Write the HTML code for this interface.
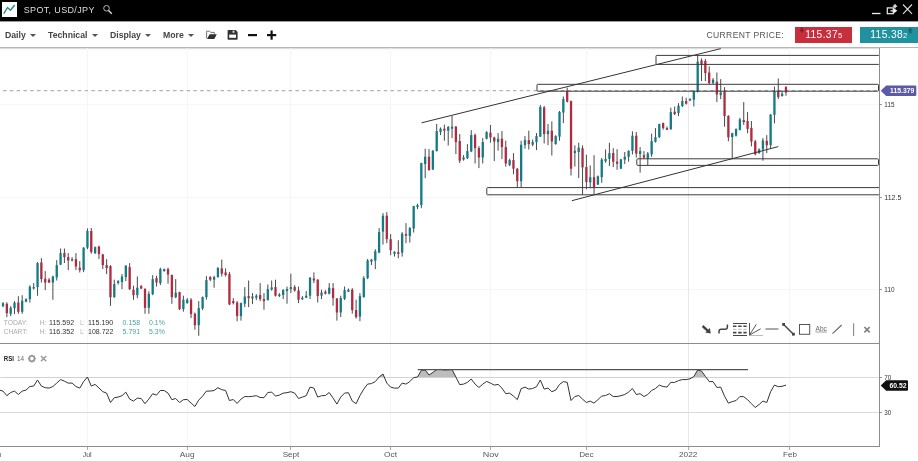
<!DOCTYPE html>
<html><head><meta charset="utf-8"><title>SPOT, USD/JPY</title>
<style>
html,body{margin:0;padding:0;background:#fff;}
body{width:918px;height:461px;overflow:hidden;position:relative;font-family:"Liberation Sans","DejaVu Sans",sans-serif;}
#top{will-change:transform;position:absolute;left:0;top:0;width:918px;height:21px;background:#000;}
#logo{position:absolute;left:2px;top:2px;width:15px;height:15px;background:#fff;}
#title{position:absolute;left:23.7px;top:4px;font-size:9px;line-height:12px;color:#ddd;letter-spacing:0.35px;white-space:nowrap;}
#tb{will-change:transform;position:absolute;left:0;top:21px;width:918px;height:26px;background:linear-gradient(#9a9a9a,#9a9a9a) 0 0/100% 1px no-repeat #fff;border-bottom:1px solid #b5b5b5;box-shadow:0 1px 1px #ddd;}
.m{position:absolute;top:8px;font-size:8.7px;line-height:12px;font-weight:bold;color:#444;white-space:nowrap;}
.ar{position:absolute;top:13px;width:0;height:0;border-left:3px solid transparent;border-right:3px solid transparent;border-top:3.5px solid #555;}
#cp{position:absolute;left:706.5px;top:8px;font-size:8.6px;line-height:12px;color:#555;letter-spacing:0.33px;white-space:nowrap;}
.pb{position:absolute;top:6px;height:15.6px;color:#fff;font-size:10.2px;line-height:15.4px;letter-spacing:0.4px;white-space:nowrap;}
.pb small{font-size:7.5px;}
svg{position:absolute;left:0;top:0;}
text{font-family:"Liberation Sans","DejaVu Sans",sans-serif;}
</style></head><body>
<div id="top">
 <div id="logo"><svg width="15" height="15" viewBox="0 0 15 15"><path d="M1.8 11.7 L5.5 5.5 L8.5 8.2 L12.7 3" fill="none" stroke="#2a8a80" stroke-width="1.4" stroke-linejoin="miter"/></svg></div>
 <div id="title">SPOT, USD/JPY</div>
 <svg width="918" height="21" viewBox="0 0 918 21">
  <circle cx="106.5" cy="8.3" r="2.8" fill="none" stroke="#bbb" stroke-width="1"/><path d="M108.5 10.6 L111.8 13.8" stroke="#ddd" stroke-width="1.4"/>
  <path d="M872 13.5 H880.5" stroke="#eee" stroke-width="1.3"/>
  <rect x="887.3" y="7.9" width="6" height="5.8" fill="none" stroke="#eee" stroke-width="1.2"/>
  <path d="M890.5 10.8 H896 M894.3 9.3 L896.3 10.8 L894.3 12.3 Z" stroke="#eee" stroke-width="1.2" fill="#eee"/>
  <path d="M895 4 L895.6 5.6 L897.2 6.2 L895.6 6.8 L895 8.4 L894.4 6.8 L892.8 6.2 L894.4 5.6 Z" fill="#eee" stroke="#eee" stroke-width="0.6"/>
  <path d="M903 4.5 L912 13.8 M912 4.5 L903 13.8" stroke="#ddd" stroke-width="1.1"/>
 </svg>
</div>
<div id="tb">
 <span class="m" style="left:5px">Daily</span><i class="ar" style="left:30px"></i>
 <span class="m" style="left:48px">Technical</span><i class="ar" style="left:92px"></i>
 <span class="m" style="left:110px">Display</span><i class="ar" style="left:145px"></i>
 <span class="m" style="left:163px">More</span><i class="ar" style="left:188px"></i>
 <svg width="300" height="26" viewBox="0 21 300 26">
  <path d="M206.6 38.4 V31.2 H209.6 L210.6 32.4 H214.4 V34" fill="none" stroke="#666" stroke-width="0.9"/>
  <path d="M207 39 L209.6 34.2 H216.8 L214.3 39 Z" fill="#2e2e2e"/>
  <path d="M228.3 30 H235.6 L237.6 32 V39.1 Q237.6 39.8 236.9 39.8 H228.3 Q227.6 39.8 227.6 39.1 V30.7 Q227.6 30 228.3 30 Z" fill="#333"/>
  <rect x="232.6" y="30.6" width="1.8" height="2.2" fill="#ddd"/>
  <rect x="229.2" y="34.6" width="6.8" height="3.2" fill="#fff"/>
  <rect x="248" y="34" width="9" height="2.2" fill="#111"/>
  <rect x="267" y="34" width="9.2" height="2.2" fill="#111"/><rect x="270.5" y="30.5" width="2.2" height="9.2" fill="#111"/>
 </svg>
 <div id="cp">CURRENT PRICE:</div>
 <div class="pb" style="left:795.4px;width:56.4px;background:#c82f3d;"><span style="position:absolute;left:9.8px">115.37<small>5</small></span></div>
 <div class="pb" style="left:860px;width:58px;background:#20919f;"><span style="position:absolute;left:10.3px">115.38<small>2</small></span></div>
 <svg width="918" height="26" viewBox="0 21 918 26">
  <path d="M800.6 27.6 H803 V30 H804.4 L801.8 33 L799.2 30 H800.6 Z" fill="#8a1f2a"/>
  <path d="M909.1 33.2 H911.5 V30.6 H912.9 L910.3 27.6 L907.7 30.6 H909.1 Z" fill="#17656e"/>
 </svg>
</div>
<svg width="918" height="461" viewBox="0 0 918 461" shape-rendering="auto">
 <!-- grid -->
 <g stroke="#f6f6f6" stroke-width="1" shape-rendering="crispEdges">
  <path d="M0 104.5 H879 M0 197.5 H879 M0 289.5 H879"/>
  <path d="M87.5 48 V446 M187.5 48 V446 M290.5 48 V446 M390.5 48 V446 M490.5 48 V446 M586.5 48 V446 M789.5 48 V446"/><path d="M688.5 48 V446" stroke="#e8e8e8"/>
  <path d="M0 377.5 H879 M0 412.5 H879" stroke="#dadada"/>
 </g>
 <!-- dashed price line -->
 <path d="M3 90.6 H879" stroke="#b2b2b2" stroke-width="1.2" stroke-dasharray="3.5 3.3"/>
 <!-- candles -->
 <g>
 <rect x="2.50" y="302.2" width="1" height="5.0" fill="#4a4a4a"/>
<rect x="1.85" y="303.2" width="2.3" height="3.0" fill="#127c86"/>
<rect x="6.34" y="302.2" width="1" height="15.0" fill="#4a4a4a"/>
<rect x="5.69" y="303.8" width="2.3" height="9.4" fill="#b02a40"/>
<rect x="10.18" y="306.2" width="1" height="10.0" fill="#4a4a4a"/>
<rect x="9.53" y="307.8" width="2.3" height="6.0" fill="#127c86"/>
<rect x="14.01" y="301.2" width="1" height="13.0" fill="#4a4a4a"/>
<rect x="13.36" y="302.6" width="2.3" height="5.6" fill="#127c86"/>
<rect x="17.85" y="296.2" width="1" height="17.6" fill="#4a4a4a"/>
<rect x="17.20" y="302.6" width="2.3" height="9.2" fill="#b02a40"/>
<rect x="21.69" y="295.2" width="1" height="18.6" fill="#4a4a4a"/>
<rect x="21.04" y="300.8" width="2.3" height="11.0" fill="#127c86"/>
<rect x="25.53" y="298.2" width="1" height="4.0" fill="#4a4a4a"/>
<rect x="24.88" y="299.2" width="2.3" height="2.6" fill="#127c86"/>
<rect x="29.37" y="285.3" width="1" height="17.3" fill="#4a4a4a"/>
<rect x="28.72" y="286.7" width="2.3" height="12.5" fill="#127c86"/>
<rect x="33.20" y="283.1" width="1" height="6.4" fill="#4a4a4a"/>
<rect x="32.55" y="287.1" width="2.3" height="1.4" fill="#127c86"/>
<rect x="37.04" y="262.1" width="1" height="33.7" fill="#4a4a4a"/>
<rect x="36.39" y="263.1" width="2.3" height="24.0" fill="#127c86"/>
<rect x="40.88" y="258.1" width="1" height="24.4" fill="#4a4a4a"/>
<rect x="40.23" y="262.5" width="2.3" height="16.6" fill="#b02a40"/>
<rect x="44.72" y="271.1" width="1" height="19.0" fill="#4a4a4a"/>
<rect x="44.07" y="278.7" width="2.3" height="3.8" fill="#b02a40"/>
<rect x="48.56" y="278.1" width="1" height="5.0" fill="#4a4a4a"/>
<rect x="47.91" y="279.7" width="2.3" height="2.8" fill="#b02a40"/>
<rect x="52.39" y="275.7" width="1" height="24.1" fill="#4a4a4a"/>
<rect x="51.74" y="276.5" width="2.3" height="6.0" fill="#127c86"/>
<rect x="56.23" y="260.1" width="1" height="20.4" fill="#4a4a4a"/>
<rect x="55.58" y="265.1" width="2.3" height="12.4" fill="#127c86"/>
<rect x="60.07" y="248.5" width="1" height="16.6" fill="#4a4a4a"/>
<rect x="59.42" y="253.1" width="2.3" height="11.6" fill="#127c86"/>
<rect x="63.91" y="248.5" width="1" height="14.6" fill="#4a4a4a"/>
<rect x="63.26" y="253.1" width="2.3" height="4.0" fill="#b02a40"/>
<rect x="67.75" y="253.1" width="1" height="17.0" fill="#4a4a4a"/>
<rect x="67.10" y="257.1" width="2.3" height="3.4" fill="#b02a40"/>
<rect x="71.58" y="257.1" width="1" height="4.4" fill="#4a4a4a"/>
<rect x="70.93" y="259.1" width="2.3" height="1.4" fill="#127c86"/>
<rect x="75.42" y="253.1" width="1" height="17.0" fill="#4a4a4a"/>
<rect x="74.77" y="259.1" width="2.3" height="7.4" fill="#b02a40"/>
<rect x="79.26" y="261.1" width="1" height="11.4" fill="#4a4a4a"/>
<rect x="78.61" y="267.7" width="2.3" height="2.4" fill="#b02a40"/>
<rect x="83.10" y="247.1" width="1" height="25.0" fill="#4a4a4a"/>
<rect x="82.45" y="247.7" width="2.3" height="22.4" fill="#127c86"/>
<rect x="86.94" y="228.4" width="1" height="20.7" fill="#4a4a4a"/>
<rect x="86.29" y="231.0" width="2.3" height="16.7" fill="#127c86"/>
<rect x="90.77" y="228.0" width="1" height="25.7" fill="#4a4a4a"/>
<rect x="90.12" y="231.0" width="2.3" height="21.1" fill="#b02a40"/>
<rect x="94.61" y="246.5" width="1" height="7.6" fill="#4a4a4a"/>
<rect x="93.96" y="247.1" width="2.3" height="6.0" fill="#127c86"/>
<rect x="98.45" y="245.7" width="1" height="13.4" fill="#4a4a4a"/>
<rect x="97.80" y="246.5" width="2.3" height="7.6" fill="#b02a40"/>
<rect x="102.29" y="253.7" width="1" height="15.4" fill="#4a4a4a"/>
<rect x="101.64" y="254.5" width="2.3" height="10.6" fill="#b02a40"/>
<rect x="106.13" y="259.1" width="1" height="15.0" fill="#4a4a4a"/>
<rect x="105.48" y="265.1" width="2.3" height="3.0" fill="#b02a40"/>
<rect x="109.96" y="265.1" width="1" height="40.7" fill="#4a4a4a"/>
<rect x="109.31" y="266.1" width="2.3" height="31.1" fill="#b02a40"/>
<rect x="113.80" y="279.7" width="1" height="18.1" fill="#4a4a4a"/>
<rect x="113.15" y="284.1" width="2.3" height="13.1" fill="#127c86"/>
<rect x="117.64" y="280.1" width="1" height="4.4" fill="#4a4a4a"/>
<rect x="116.99" y="281.1" width="2.3" height="2.0" fill="#127c86"/>
<rect x="121.48" y="274.1" width="1" height="15.0" fill="#4a4a4a"/>
<rect x="120.83" y="276.5" width="2.3" height="5.6" fill="#127c86"/>
<rect x="125.32" y="265.1" width="1" height="16.0" fill="#4a4a4a"/>
<rect x="124.67" y="265.7" width="2.3" height="11.4" fill="#127c86"/>
<rect x="129.15" y="263.1" width="1" height="27.0" fill="#4a4a4a"/>
<rect x="128.50" y="267.1" width="2.3" height="22.0" fill="#b02a40"/>
<rect x="132.99" y="285.7" width="1" height="14.1" fill="#4a4a4a"/>
<rect x="132.34" y="289.7" width="2.3" height="5.5" fill="#b02a40"/>
<rect x="136.83" y="276.5" width="1" height="21.7" fill="#4a4a4a"/>
<rect x="136.18" y="287.7" width="2.3" height="7.5" fill="#127c86"/>
<rect x="140.67" y="285.1" width="1" height="4.0" fill="#4a4a4a"/>
<rect x="140.02" y="286.1" width="2.3" height="2.4" fill="#b02a40"/>
<rect x="144.51" y="288.1" width="1" height="25.7" fill="#4a4a4a"/>
<rect x="143.86" y="289.1" width="2.3" height="18.7" fill="#b02a40"/>
<rect x="148.34" y="291.2" width="1" height="22.6" fill="#4a4a4a"/>
<rect x="147.69" y="293.8" width="2.3" height="14.0" fill="#127c86"/>
<rect x="152.18" y="275.1" width="1" height="20.1" fill="#4a4a4a"/>
<rect x="151.53" y="279.1" width="2.3" height="15.1" fill="#127c86"/>
<rect x="156.02" y="275.7" width="1" height="10.8" fill="#4a4a4a"/>
<rect x="155.37" y="278.1" width="2.3" height="4.4" fill="#b02a40"/>
<rect x="159.86" y="267.7" width="1" height="17.4" fill="#4a4a4a"/>
<rect x="159.21" y="269.1" width="2.3" height="14.0" fill="#127c86"/>
<rect x="163.70" y="268.5" width="1" height="3.2" fill="#4a4a4a"/>
<rect x="163.05" y="269.1" width="2.3" height="2.0" fill="#127c86"/>
<rect x="167.53" y="267.7" width="1" height="16.0" fill="#4a4a4a"/>
<rect x="166.88" y="269.1" width="2.3" height="5.4" fill="#b02a40"/>
<rect x="171.37" y="274.5" width="1" height="29.3" fill="#4a4a4a"/>
<rect x="170.72" y="275.1" width="2.3" height="22.1" fill="#b02a40"/>
<rect x="175.21" y="279.1" width="1" height="19.1" fill="#4a4a4a"/>
<rect x="174.56" y="292.6" width="2.3" height="4.6" fill="#127c86"/>
<rect x="179.05" y="291.7" width="1" height="18.4" fill="#4a4a4a"/>
<rect x="178.40" y="292.1" width="2.3" height="17.0" fill="#b02a40"/>
<rect x="182.89" y="295.7" width="1" height="16.0" fill="#4a4a4a"/>
<rect x="182.24" y="299.7" width="2.3" height="9.4" fill="#127c86"/>
<rect x="186.72" y="298.1" width="1" height="5.6" fill="#4a4a4a"/>
<rect x="186.07" y="299.7" width="2.3" height="3.4" fill="#127c86"/>
<rect x="190.56" y="298.1" width="1" height="20.0" fill="#4a4a4a"/>
<rect x="189.91" y="299.7" width="2.3" height="14.4" fill="#b02a40"/>
<rect x="194.40" y="312.5" width="1" height="17.3" fill="#4a4a4a"/>
<rect x="193.75" y="313.7" width="2.3" height="11.5" fill="#b02a40"/>
<rect x="198.24" y="301.1" width="1" height="34.7" fill="#4a4a4a"/>
<rect x="197.59" y="308.1" width="2.3" height="17.1" fill="#127c86"/>
<rect x="202.08" y="296.5" width="1" height="13.6" fill="#4a4a4a"/>
<rect x="201.43" y="297.1" width="2.3" height="11.4" fill="#127c86"/>
<rect x="205.91" y="276.1" width="1" height="23.6" fill="#4a4a4a"/>
<rect x="205.26" y="280.1" width="2.3" height="17.0" fill="#127c86"/>
<rect x="209.75" y="276.1" width="1" height="5.0" fill="#4a4a4a"/>
<rect x="209.10" y="277.1" width="2.3" height="2.6" fill="#b02a40"/>
<rect x="213.59" y="275.7" width="1" height="12.0" fill="#4a4a4a"/>
<rect x="212.94" y="277.1" width="2.3" height="2.6" fill="#127c86"/>
<rect x="217.43" y="267.0" width="1" height="10.7" fill="#4a4a4a"/>
<rect x="216.78" y="268.0" width="2.3" height="9.1" fill="#127c86"/>
<rect x="221.27" y="259.6" width="1" height="16.9" fill="#4a4a4a"/>
<rect x="220.62" y="268.4" width="2.3" height="5.3" fill="#b02a40"/>
<rect x="225.10" y="268.4" width="1" height="8.1" fill="#4a4a4a"/>
<rect x="224.45" y="272.4" width="2.3" height="2.7" fill="#b02a40"/>
<rect x="228.94" y="272.0" width="1" height="33.1" fill="#4a4a4a"/>
<rect x="228.29" y="274.1" width="2.3" height="30.4" fill="#b02a40"/>
<rect x="232.78" y="298.1" width="1" height="6.4" fill="#4a4a4a"/>
<rect x="232.13" y="301.1" width="2.3" height="2.0" fill="#b02a40"/>
<rect x="236.62" y="301.1" width="1" height="20.1" fill="#4a4a4a"/>
<rect x="235.97" y="302.5" width="2.3" height="13.6" fill="#b02a40"/>
<rect x="240.46" y="302.5" width="1" height="18.1" fill="#4a4a4a"/>
<rect x="239.81" y="303.1" width="2.3" height="13.0" fill="#127c86"/>
<rect x="244.29" y="287.1" width="1" height="20.0" fill="#4a4a4a"/>
<rect x="243.64" y="296.5" width="2.3" height="7.2" fill="#127c86"/>
<rect x="248.13" y="280.5" width="1" height="26.6" fill="#4a4a4a"/>
<rect x="247.48" y="296.1" width="2.3" height="2.0" fill="#b02a40"/>
<rect x="251.97" y="293.1" width="1" height="11.0" fill="#4a4a4a"/>
<rect x="251.32" y="296.5" width="2.3" height="2.0" fill="#127c86"/>
<rect x="255.81" y="294.1" width="1" height="6.0" fill="#4a4a4a"/>
<rect x="255.16" y="295.7" width="2.3" height="2.0" fill="#127c86"/>
<rect x="259.65" y="283.1" width="1" height="18.0" fill="#4a4a4a"/>
<rect x="259.00" y="295.1" width="2.3" height="4.0" fill="#b02a40"/>
<rect x="263.48" y="293.1" width="1" height="16.6" fill="#4a4a4a"/>
<rect x="262.83" y="299.1" width="2.3" height="2.0" fill="#b02a40"/>
<rect x="267.32" y="284.5" width="1" height="16.0" fill="#4a4a4a"/>
<rect x="266.67" y="289.1" width="2.3" height="11.0" fill="#127c86"/>
<rect x="271.16" y="280.5" width="1" height="10.2" fill="#4a4a4a"/>
<rect x="270.51" y="287.5" width="2.3" height="2.0" fill="#127c86"/>
<rect x="275.00" y="279.7" width="1" height="16.8" fill="#4a4a4a"/>
<rect x="274.35" y="287.1" width="2.3" height="8.6" fill="#b02a40"/>
<rect x="278.84" y="293.1" width="1" height="4.0" fill="#4a4a4a"/>
<rect x="278.19" y="294.5" width="2.3" height="1.6" fill="#127c86"/>
<rect x="282.67" y="289.1" width="1" height="10.0" fill="#4a4a4a"/>
<rect x="282.02" y="290.1" width="2.3" height="5.0" fill="#127c86"/>
<rect x="286.51" y="286.5" width="1" height="17.2" fill="#4a4a4a"/>
<rect x="285.86" y="289.1" width="2.3" height="2.0" fill="#127c86"/>
<rect x="290.35" y="273.7" width="1" height="19.4" fill="#4a4a4a"/>
<rect x="289.70" y="287.1" width="2.3" height="2.0" fill="#127c86"/>
<rect x="294.19" y="285.1" width="1" height="6.6" fill="#4a4a4a"/>
<rect x="293.54" y="287.1" width="2.3" height="3.4" fill="#b02a40"/>
<rect x="298.03" y="286.5" width="1" height="16.6" fill="#4a4a4a"/>
<rect x="297.38" y="290.5" width="2.3" height="9.2" fill="#b02a40"/>
<rect x="301.86" y="296.1" width="1" height="4.0" fill="#4a4a4a"/>
<rect x="301.21" y="297.7" width="2.3" height="1.4" fill="#127c86"/>
<rect x="305.70" y="291.1" width="1" height="7.0" fill="#4a4a4a"/>
<rect x="305.05" y="295.7" width="2.3" height="2.0" fill="#127c86"/>
<rect x="309.54" y="277.1" width="1" height="22.0" fill="#4a4a4a"/>
<rect x="308.89" y="277.7" width="2.3" height="18.0" fill="#127c86"/>
<rect x="313.38" y="272.4" width="1" height="10.7" fill="#4a4a4a"/>
<rect x="312.73" y="278.5" width="2.3" height="2.0" fill="#b02a40"/>
<rect x="317.22" y="279.1" width="1" height="23.4" fill="#4a4a4a"/>
<rect x="316.57" y="279.7" width="2.3" height="16.4" fill="#b02a40"/>
<rect x="321.05" y="289.7" width="1" height="9.4" fill="#4a4a4a"/>
<rect x="320.40" y="292.5" width="2.3" height="3.2" fill="#127c86"/>
<rect x="324.89" y="290.1" width="1" height="4.4" fill="#4a4a4a"/>
<rect x="324.24" y="291.7" width="2.3" height="2.0" fill="#b02a40"/>
<rect x="328.73" y="283.1" width="1" height="11.4" fill="#4a4a4a"/>
<rect x="328.08" y="287.7" width="2.3" height="6.0" fill="#127c86"/>
<rect x="332.57" y="283.1" width="1" height="22.6" fill="#4a4a4a"/>
<rect x="331.92" y="288.1" width="2.3" height="10.0" fill="#b02a40"/>
<rect x="336.41" y="298.1" width="1" height="22.5" fill="#4a4a4a"/>
<rect x="335.76" y="298.5" width="2.3" height="14.0" fill="#b02a40"/>
<rect x="340.24" y="295.7" width="1" height="21.4" fill="#4a4a4a"/>
<rect x="339.59" y="298.1" width="2.3" height="14.4" fill="#127c86"/>
<rect x="344.08" y="286.5" width="1" height="13.6" fill="#4a4a4a"/>
<rect x="343.43" y="290.1" width="2.3" height="8.6" fill="#127c86"/>
<rect x="347.92" y="288.5" width="1" height="3.6" fill="#4a4a4a"/>
<rect x="347.27" y="289.7" width="2.3" height="2.0" fill="#127c86"/>
<rect x="351.76" y="288.1" width="1" height="25.6" fill="#4a4a4a"/>
<rect x="351.11" y="289.7" width="2.3" height="20.4" fill="#b02a40"/>
<rect x="355.60" y="299.7" width="1" height="18.9" fill="#4a4a4a"/>
<rect x="354.95" y="310.1" width="2.3" height="7.0" fill="#b02a40"/>
<rect x="359.43" y="293.1" width="1" height="28.1" fill="#4a4a4a"/>
<rect x="358.78" y="296.1" width="2.3" height="20.5" fill="#127c86"/>
<rect x="363.27" y="276.1" width="1" height="21.6" fill="#4a4a4a"/>
<rect x="362.62" y="278.1" width="2.3" height="19.0" fill="#127c86"/>
<rect x="367.11" y="259.0" width="1" height="20.1" fill="#4a4a4a"/>
<rect x="366.46" y="260.4" width="2.3" height="17.7" fill="#127c86"/>
<rect x="370.95" y="259.0" width="1" height="6.1" fill="#4a4a4a"/>
<rect x="370.30" y="259.6" width="2.3" height="2.1" fill="#127c86"/>
<rect x="374.79" y="249.2" width="1" height="20.0" fill="#4a4a4a"/>
<rect x="374.14" y="251.2" width="2.3" height="9.4" fill="#127c86"/>
<rect x="378.62" y="228.1" width="1" height="25.1" fill="#4a4a4a"/>
<rect x="377.97" y="232.1" width="2.3" height="20.5" fill="#127c86"/>
<rect x="382.46" y="213.1" width="1" height="31.5" fill="#4a4a4a"/>
<rect x="381.81" y="215.7" width="2.3" height="16.0" fill="#127c86"/>
<rect x="386.30" y="212.1" width="1" height="31.1" fill="#4a4a4a"/>
<rect x="385.65" y="215.7" width="2.3" height="23.5" fill="#b02a40"/>
<rect x="390.14" y="234.1" width="1" height="21.1" fill="#4a4a4a"/>
<rect x="389.49" y="239.2" width="2.3" height="11.0" fill="#b02a40"/>
<rect x="393.98" y="251.2" width="1" height="5.4" fill="#4a4a4a"/>
<rect x="393.33" y="251.8" width="2.3" height="2.0" fill="#127c86"/>
<rect x="397.81" y="240.2" width="1" height="18.0" fill="#4a4a4a"/>
<rect x="397.16" y="252.2" width="2.3" height="1.6" fill="#b02a40"/>
<rect x="401.65" y="232.1" width="1" height="24.5" fill="#4a4a4a"/>
<rect x="401.00" y="233.7" width="2.3" height="18.9" fill="#127c86"/>
<rect x="405.49" y="223.1" width="1" height="20.1" fill="#4a4a4a"/>
<rect x="404.84" y="234.1" width="2.3" height="1.6" fill="#b02a40"/>
<rect x="409.33" y="227.1" width="1" height="15.5" fill="#4a4a4a"/>
<rect x="408.68" y="228.1" width="2.3" height="8.0" fill="#127c86"/>
<rect x="413.17" y="205.7" width="1" height="26.8" fill="#4a4a4a"/>
<rect x="412.52" y="206.1" width="2.3" height="22.4" fill="#127c86"/>
<rect x="417.00" y="203.7" width="1" height="5.4" fill="#4a4a4a"/>
<rect x="416.35" y="205.1" width="2.3" height="2.0" fill="#127c86"/>
<rect x="420.84" y="162.7" width="1" height="45.4" fill="#4a4a4a"/>
<rect x="420.19" y="163.1" width="2.3" height="42.0" fill="#127c86"/>
<rect x="424.68" y="148.7" width="1" height="29.5" fill="#4a4a4a"/>
<rect x="424.03" y="156.7" width="2.3" height="7.4" fill="#127c86"/>
<rect x="428.52" y="149.1" width="1" height="21.6" fill="#4a4a4a"/>
<rect x="427.87" y="156.7" width="2.3" height="13.4" fill="#b02a40"/>
<rect x="432.36" y="150.1" width="1" height="20.0" fill="#4a4a4a"/>
<rect x="431.71" y="150.7" width="2.3" height="18.8" fill="#127c86"/>
<rect x="436.19" y="124.0" width="1" height="27.5" fill="#4a4a4a"/>
<rect x="435.54" y="131.1" width="2.3" height="20.0" fill="#127c86"/>
<rect x="440.03" y="127.4" width="1" height="7.7" fill="#4a4a4a"/>
<rect x="439.38" y="128.7" width="2.3" height="3.4" fill="#127c86"/>
<rect x="443.87" y="124.6" width="1" height="16.1" fill="#4a4a4a"/>
<rect x="443.22" y="128.7" width="2.3" height="2.0" fill="#b02a40"/>
<rect x="447.71" y="126.0" width="1" height="19.5" fill="#4a4a4a"/>
<rect x="447.06" y="127.0" width="2.3" height="3.7" fill="#127c86"/>
<rect x="451.55" y="116.0" width="1" height="22.1" fill="#4a4a4a"/>
<rect x="450.90" y="126.6" width="2.3" height="2.1" fill="#127c86"/>
<rect x="455.38" y="126.0" width="1" height="28.1" fill="#4a4a4a"/>
<rect x="454.73" y="126.6" width="2.3" height="15.5" fill="#b02a40"/>
<rect x="459.22" y="134.1" width="1" height="29.0" fill="#4a4a4a"/>
<rect x="458.57" y="141.1" width="2.3" height="19.6" fill="#b02a40"/>
<rect x="463.06" y="155.1" width="1" height="5.6" fill="#4a4a4a"/>
<rect x="462.41" y="157.5" width="2.3" height="2.0" fill="#127c86"/>
<rect x="466.90" y="144.1" width="1" height="15.0" fill="#4a4a4a"/>
<rect x="466.25" y="151.1" width="2.3" height="7.0" fill="#127c86"/>
<rect x="470.74" y="130.1" width="1" height="22.0" fill="#4a4a4a"/>
<rect x="470.09" y="135.1" width="2.3" height="16.4" fill="#127c86"/>
<rect x="474.57" y="133.5" width="1" height="30.0" fill="#4a4a4a"/>
<rect x="473.92" y="135.1" width="2.3" height="13.0" fill="#b02a40"/>
<rect x="478.41" y="146.1" width="1" height="22.0" fill="#4a4a4a"/>
<rect x="477.76" y="148.1" width="2.3" height="9.4" fill="#b02a40"/>
<rect x="482.25" y="138.1" width="1" height="25.4" fill="#4a4a4a"/>
<rect x="481.60" y="142.1" width="2.3" height="15.4" fill="#127c86"/>
<rect x="486.09" y="131.1" width="1" height="8.4" fill="#4a4a4a"/>
<rect x="485.44" y="132.1" width="2.3" height="6.6" fill="#127c86"/>
<rect x="489.93" y="125.0" width="1" height="17.7" fill="#4a4a4a"/>
<rect x="489.28" y="132.7" width="2.3" height="4.8" fill="#b02a40"/>
<rect x="493.76" y="136.7" width="1" height="24.4" fill="#4a4a4a"/>
<rect x="493.11" y="137.5" width="2.3" height="4.0" fill="#b02a40"/>
<rect x="497.60" y="133.1" width="1" height="17.6" fill="#4a4a4a"/>
<rect x="496.95" y="138.7" width="2.3" height="3.4" fill="#127c86"/>
<rect x="501.44" y="131.1" width="1" height="28.0" fill="#4a4a4a"/>
<rect x="500.79" y="138.7" width="2.3" height="8.4" fill="#b02a40"/>
<rect x="505.28" y="140.7" width="1" height="26.0" fill="#4a4a4a"/>
<rect x="504.63" y="147.1" width="2.3" height="16.4" fill="#b02a40"/>
<rect x="509.12" y="158.7" width="1" height="7.4" fill="#4a4a4a"/>
<rect x="508.47" y="160.1" width="2.3" height="5.0" fill="#127c86"/>
<rect x="512.95" y="153.1" width="1" height="21.1" fill="#4a4a4a"/>
<rect x="512.30" y="160.1" width="2.3" height="8.6" fill="#b02a40"/>
<rect x="516.79" y="168.1" width="1" height="19.1" fill="#4a4a4a"/>
<rect x="516.14" y="168.7" width="2.3" height="12.5" fill="#b02a40"/>
<rect x="520.63" y="140.7" width="1" height="46.5" fill="#4a4a4a"/>
<rect x="519.98" y="144.7" width="2.3" height="36.5" fill="#127c86"/>
<rect x="524.47" y="136.1" width="1" height="12.6" fill="#4a4a4a"/>
<rect x="523.82" y="140.1" width="2.3" height="5.0" fill="#127c86"/>
<rect x="528.31" y="130.7" width="1" height="18.8" fill="#4a4a4a"/>
<rect x="527.66" y="140.1" width="2.3" height="4.0" fill="#b02a40"/>
<rect x="532.14" y="139.5" width="1" height="6.6" fill="#4a4a4a"/>
<rect x="531.49" y="142.1" width="2.3" height="2.6" fill="#127c86"/>
<rect x="535.98" y="133.1" width="1" height="17.0" fill="#4a4a4a"/>
<rect x="535.33" y="136.1" width="2.3" height="6.0" fill="#127c86"/>
<rect x="539.82" y="105.0" width="1" height="32.1" fill="#4a4a4a"/>
<rect x="539.17" y="107.0" width="2.3" height="29.7" fill="#127c86"/>
<rect x="543.66" y="106.0" width="1" height="37.5" fill="#4a4a4a"/>
<rect x="543.01" y="107.4" width="2.3" height="26.7" fill="#b02a40"/>
<rect x="547.50" y="124.0" width="1" height="21.1" fill="#4a4a4a"/>
<rect x="546.85" y="130.7" width="2.3" height="3.4" fill="#127c86"/>
<rect x="551.33" y="121.4" width="1" height="34.1" fill="#4a4a4a"/>
<rect x="550.68" y="130.7" width="2.3" height="10.8" fill="#b02a40"/>
<rect x="555.17" y="135.1" width="1" height="9.6" fill="#4a4a4a"/>
<rect x="554.52" y="136.1" width="2.3" height="8.0" fill="#127c86"/>
<rect x="559.01" y="111.0" width="1" height="29.7" fill="#4a4a4a"/>
<rect x="558.36" y="112.0" width="2.3" height="24.7" fill="#127c86"/>
<rect x="562.85" y="96.5" width="1" height="26.6" fill="#4a4a4a"/>
<rect x="562.20" y="99.1" width="2.3" height="13.4" fill="#127c86"/>
<rect x="566.69" y="87.6" width="1" height="14.9" fill="#4a4a4a"/>
<rect x="566.04" y="91.0" width="2.3" height="10.7" fill="#b02a40"/>
<rect x="570.52" y="100.5" width="1" height="75.0" fill="#4a4a4a"/>
<rect x="569.87" y="101.1" width="2.3" height="67.6" fill="#b02a40"/>
<rect x="574.36" y="145.4" width="1" height="21.2" fill="#4a4a4a"/>
<rect x="573.71" y="150.8" width="2.3" height="2.3" fill="#127c86"/>
<rect x="578.20" y="142.7" width="1" height="35.3" fill="#4a4a4a"/>
<rect x="577.55" y="147.6" width="2.3" height="4.4" fill="#127c86"/>
<rect x="582.04" y="145.4" width="1" height="49.3" fill="#4a4a4a"/>
<rect x="581.39" y="148.2" width="2.3" height="19.2" fill="#b02a40"/>
<rect x="585.88" y="154.7" width="1" height="34.6" fill="#4a4a4a"/>
<rect x="585.23" y="167.1" width="2.3" height="14.9" fill="#b02a40"/>
<rect x="589.71" y="165.4" width="1" height="22.8" fill="#4a4a4a"/>
<rect x="589.06" y="177.2" width="2.3" height="5.2" fill="#127c86"/>
<rect x="593.55" y="155.2" width="1" height="39.0" fill="#4a4a4a"/>
<rect x="592.90" y="177.2" width="2.3" height="10.0" fill="#b02a40"/>
<rect x="597.39" y="175.5" width="1" height="9.5" fill="#4a4a4a"/>
<rect x="596.74" y="176.3" width="2.3" height="8.2" fill="#127c86"/>
<rect x="601.23" y="158.0" width="1" height="24.8" fill="#4a4a4a"/>
<rect x="600.58" y="159.6" width="2.3" height="17.6" fill="#127c86"/>
<rect x="605.07" y="149.5" width="1" height="13.3" fill="#4a4a4a"/>
<rect x="604.42" y="158.9" width="2.3" height="2.3" fill="#127c86"/>
<rect x="608.90" y="142.7" width="1" height="23.4" fill="#4a4a4a"/>
<rect x="608.25" y="153.1" width="2.3" height="5.8" fill="#127c86"/>
<rect x="612.74" y="148.2" width="1" height="18.9" fill="#4a4a4a"/>
<rect x="612.09" y="153.1" width="2.3" height="8.6" fill="#b02a40"/>
<rect x="616.58" y="149.2" width="1" height="20.6" fill="#4a4a4a"/>
<rect x="615.93" y="161.7" width="2.3" height="2.1" fill="#b02a40"/>
<rect x="620.42" y="158.9" width="1" height="10.1" fill="#4a4a4a"/>
<rect x="619.77" y="159.3" width="2.3" height="9.4" fill="#127c86"/>
<rect x="624.26" y="152.0" width="1" height="12.1" fill="#4a4a4a"/>
<rect x="623.61" y="156.8" width="2.3" height="2.8" fill="#127c86"/>
<rect x="628.09" y="150.3" width="1" height="11.4" fill="#4a4a4a"/>
<rect x="627.44" y="150.8" width="2.3" height="6.0" fill="#127c86"/>
<rect x="631.93" y="131.3" width="1" height="23.1" fill="#4a4a4a"/>
<rect x="631.28" y="135.7" width="2.3" height="15.1" fill="#127c86"/>
<rect x="635.77" y="132.0" width="1" height="25.6" fill="#4a4a4a"/>
<rect x="635.12" y="135.7" width="2.3" height="17.9" fill="#b02a40"/>
<rect x="639.61" y="147.1" width="1" height="25.5" fill="#4a4a4a"/>
<rect x="638.96" y="151.1" width="2.3" height="3.0" fill="#127c86"/>
<rect x="643.45" y="151.1" width="1" height="7.8" fill="#4a4a4a"/>
<rect x="642.80" y="155.2" width="2.3" height="2.4" fill="#b02a40"/>
<rect x="647.28" y="152.0" width="1" height="13.0" fill="#4a4a4a"/>
<rect x="646.63" y="153.6" width="2.3" height="4.9" fill="#127c86"/>
<rect x="651.12" y="133.6" width="1" height="23.2" fill="#4a4a4a"/>
<rect x="650.47" y="141.1" width="2.3" height="13.3" fill="#127c86"/>
<rect x="654.96" y="128.1" width="1" height="14.5" fill="#4a4a4a"/>
<rect x="654.31" y="137.1" width="2.3" height="4.7" fill="#127c86"/>
<rect x="658.80" y="123.7" width="1" height="14.4" fill="#4a4a4a"/>
<rect x="658.15" y="124.1" width="2.3" height="13.0" fill="#127c86"/>
<rect x="662.64" y="122.5" width="1" height="7.2" fill="#4a4a4a"/>
<rect x="661.99" y="123.1" width="2.3" height="5.0" fill="#b02a40"/>
<rect x="666.47" y="126.5" width="1" height="3.6" fill="#4a4a4a"/>
<rect x="665.82" y="128.1" width="2.3" height="1.6" fill="#b02a40"/>
<rect x="670.31" y="107.7" width="1" height="22.1" fill="#4a4a4a"/>
<rect x="669.66" y="112.1" width="2.3" height="17.1" fill="#127c86"/>
<rect x="674.15" y="106.5" width="1" height="8.6" fill="#4a4a4a"/>
<rect x="673.50" y="111.7" width="2.3" height="2.4" fill="#b02a40"/>
<rect x="677.99" y="103.1" width="1" height="13.0" fill="#4a4a4a"/>
<rect x="677.34" y="105.7" width="2.3" height="7.4" fill="#127c86"/>
<rect x="681.83" y="96.5" width="1" height="10.6" fill="#4a4a4a"/>
<rect x="681.18" y="101.1" width="2.3" height="5.0" fill="#127c86"/>
<rect x="685.66" y="97.7" width="1" height="6.8" fill="#4a4a4a"/>
<rect x="685.01" y="101.1" width="2.3" height="2.6" fill="#b02a40"/>
<rect x="689.50" y="98.1" width="1" height="3.0" fill="#4a4a4a"/>
<rect x="688.85" y="99.1" width="2.3" height="1.4" fill="#127c86"/>
<rect x="693.34" y="90.5" width="1" height="16.0" fill="#4a4a4a"/>
<rect x="692.69" y="91.1" width="2.3" height="8.6" fill="#127c86"/>
<rect x="697.18" y="55.0" width="1" height="37.5" fill="#4a4a4a"/>
<rect x="696.53" y="61.6" width="2.3" height="30.1" fill="#127c86"/>
<rect x="701.02" y="58.4" width="1" height="22.7" fill="#4a4a4a"/>
<rect x="700.37" y="60.4" width="2.3" height="3.6" fill="#b02a40"/>
<rect x="704.85" y="59.0" width="1" height="22.1" fill="#4a4a4a"/>
<rect x="704.20" y="61.0" width="2.3" height="12.1" fill="#b02a40"/>
<rect x="708.69" y="66.4" width="1" height="17.7" fill="#4a4a4a"/>
<rect x="708.04" y="72.5" width="2.3" height="10.6" fill="#b02a40"/>
<rect x="712.53" y="78.1" width="1" height="6.0" fill="#4a4a4a"/>
<rect x="711.88" y="79.7" width="2.3" height="3.4" fill="#127c86"/>
<rect x="716.37" y="72.5" width="1" height="29.6" fill="#4a4a4a"/>
<rect x="715.72" y="81.7" width="2.3" height="12.8" fill="#b02a40"/>
<rect x="720.21" y="79.1" width="1" height="20.0" fill="#4a4a4a"/>
<rect x="719.56" y="92.5" width="2.3" height="2.6" fill="#127c86"/>
<rect x="724.04" y="87.1" width="1" height="39.6" fill="#4a4a4a"/>
<rect x="723.39" y="91.1" width="2.3" height="25.0" fill="#b02a40"/>
<rect x="727.88" y="115.3" width="1" height="26.0" fill="#4a4a4a"/>
<rect x="727.23" y="115.8" width="2.3" height="21.5" fill="#b02a40"/>
<rect x="731.72" y="132.7" width="1" height="26.0" fill="#4a4a4a"/>
<rect x="731.07" y="133.2" width="2.3" height="3.8" fill="#127c86"/>
<rect x="735.56" y="128.3" width="1" height="8.2" fill="#4a4a4a"/>
<rect x="734.91" y="129.1" width="2.3" height="6.6" fill="#127c86"/>
<rect x="739.40" y="117.8" width="1" height="12.6" fill="#4a4a4a"/>
<rect x="738.75" y="119.4" width="2.3" height="10.6" fill="#127c86"/>
<rect x="743.23" y="102.1" width="1" height="22.8" fill="#4a4a4a"/>
<rect x="742.58" y="120.1" width="2.3" height="2.1" fill="#b02a40"/>
<rect x="747.07" y="112.1" width="1" height="21.2" fill="#4a4a4a"/>
<rect x="746.42" y="121.0" width="2.3" height="7.9" fill="#b02a40"/>
<rect x="750.91" y="121.0" width="1" height="25.4" fill="#4a4a4a"/>
<rect x="750.26" y="127.9" width="2.3" height="13.7" fill="#b02a40"/>
<rect x="754.75" y="139.8" width="1" height="15.5" fill="#4a4a4a"/>
<rect x="754.10" y="141.3" width="2.3" height="12.9" fill="#b02a40"/>
<rect x="758.59" y="148.4" width="1" height="5.5" fill="#4a4a4a"/>
<rect x="757.94" y="149.4" width="2.3" height="3.6" fill="#127c86"/>
<rect x="762.42" y="138.0" width="1" height="22.7" fill="#4a4a4a"/>
<rect x="761.77" y="140.4" width="2.3" height="9.0" fill="#127c86"/>
<rect x="766.26" y="135.1" width="1" height="17.9" fill="#4a4a4a"/>
<rect x="765.61" y="140.8" width="2.3" height="4.4" fill="#b02a40"/>
<rect x="770.10" y="114.2" width="1" height="34.6" fill="#4a4a4a"/>
<rect x="769.45" y="114.5" width="2.3" height="30.7" fill="#127c86"/>
<rect x="773.94" y="86.5" width="1" height="36.9" fill="#4a4a4a"/>
<rect x="773.29" y="91.1" width="2.3" height="23.7" fill="#127c86"/>
<rect x="777.78" y="78.5" width="1" height="20.6" fill="#4a4a4a"/>
<rect x="777.13" y="90.5" width="2.3" height="6.6" fill="#b02a40"/>
<rect x="781.61" y="91.1" width="1" height="5.4" fill="#4a4a4a"/>
<rect x="780.96" y="93.7" width="2.3" height="2.4" fill="#127c86"/>
<rect x="785.45" y="86.1" width="1" height="9.6" fill="#4a4a4a"/>
<rect x="784.80" y="87.1" width="2.3" height="5.4" fill="#b02a40"/>
 </g>
 <!-- rectangles -->
 <g fill="none" stroke="#3c3c3c" stroke-width="1">
  <rect x="656" y="55.4" width="223.5" height="9" rx="0.8"/>
  <rect x="537" y="84.3" width="341.5" height="6.9" rx="0.8"/>
  <rect x="636.8" y="158.8" width="241.7" height="6.6" rx="1"/>
  <rect x="486.8" y="187.6" width="395" height="7.2" rx="0.8"/>
 </g>
 <rect x="879.6" y="48" width="39" height="400" fill="#fff"/>
 <!-- trend lines -->
 <g stroke="#333" stroke-width="1">
  <path d="M421.6 122.8 L720.8 48.6"/>
  <path d="M571.8 200.7 L778.3 146.6"/>
 </g>
 <!-- drawing tools -->
 <g>
  <path d="M702.6 326 L707.6 330.6" stroke="#444" stroke-width="2.4"/>
  <path d="M710.8 333.4 L705.2 332.6 L709.8 328 Z" fill="#444"/>
  <path d="M719 333.4 V331.5 Q719 329.3 721.2 329.3 H725 Q727.4 329.3 727.4 327 V324.6" fill="none" stroke="#444" stroke-width="1.5"/>
  <g stroke="#444" stroke-width="1" shape-rendering="crispEdges"><path d="M732.5 323 H746.5 M732.5 335.5 H746.5"/></g>
  <g stroke="#444" stroke-width="1.6" stroke-dasharray="3.4 1.8"><path d="M733 326.2 H746.6 M733 332.6 H746.6"/></g>
  <g stroke="#c4c4c4" stroke-width="1.4" stroke-dasharray="3.4 1.8"><path d="M733 329.4 H746.6"/></g>
  <g stroke="#555" stroke-width="1" fill="none"><path d="M749.5 323 V335.5 M749.5 335 L756.3 324.3 M749.5 335 L760.7 328.8"/><path d="M749.5 335.5 H763" stroke="#bbb"/></g>
  <path d="M765.4 329 H778.5" stroke="#555" stroke-width="1"/>
  <path d="M783.6 324.4 L793.4 334.2" stroke="#444" stroke-width="1.4"/>
  <rect x="782.2" y="323" width="2.8" height="2.8" fill="#444"/><rect x="792" y="332.8" width="2.8" height="2.8" fill="#444"/>
  <rect x="799.5" y="324.5" width="10.2" height="9.8" fill="none" stroke="#555" stroke-width="1"/>
  <text x="815.6" y="330.8" font-size="6.3" fill="#666" textLength="11.3" lengthAdjust="spacingAndGlyphs">Abc</text>
  <path d="M815.4 332 H827" stroke="#888" stroke-width="0.8"/>
  <path d="M832.5 333.6 L841.6 325" stroke="#666" stroke-width="1.1"/>
  <path d="M853.6 323.2 V336" stroke="#888" stroke-width="1.1"/>
  <path d="M864.4 327 L869.7 332.3 M869.7 327 L864.4 332.3" stroke="#808080" stroke-width="1.7"/>
 </g>
 <!-- panel borders -->
 <g stroke="#8c8c8c" stroke-width="1" shape-rendering="crispEdges">
  <path d="M0 343.5 H880"/>
  <path d="M879.5 48 V447"/>
  <path d="M0 446.5 H880"/>
 </g>
 <!-- RSI -->
 <clipPath id="ob"><rect x="0" y="344" width="879" height="33.5"/></clipPath><path d="M3.0 377.5 L3.0 391.1 L6.8 395.7 L10.7 392.5 L14.5 391.1 L18.4 394.5 L22.2 391.1 L26.0 390.1 L29.9 386.5 L33.7 386.1 L37.5 380.0 L41.4 386.1 L45.2 387.7 L49.1 388.1 L52.9 386.5 L56.7 383.1 L60.6 379.6 L64.4 381.1 L68.2 383.1 L72.1 383.1 L75.9 386.5 L79.8 388.1 L83.6 381.6 L87.4 377.0 L91.3 386.1 L95.1 384.4 L99.0 388.1 L102.8 391.7 L106.6 393.1 L110.5 402.5 L114.3 397.7 L118.1 397.1 L122.0 395.7 L125.8 392.1 L129.7 399.1 L133.5 401.1 L137.3 398.1 L141.2 398.5 L145.0 403.7 L148.8 399.1 L152.7 393.7 L156.5 395.1 L160.4 390.5 L164.2 390.5 L168.0 393.1 L171.9 399.7 L175.7 398.5 L179.6 402.5 L183.4 399.7 L187.2 399.5 L191.1 403.1 L194.9 406.5 L198.7 400.1 L202.6 396.1 L206.4 391.1 L210.2 391.1 L214.1 390.5 L217.9 387.7 L221.8 389.7 L225.6 390.5 L229.4 400.5 L233.3 399.5 L237.1 403.5 L241.0 399.1 L244.8 396.5 L248.6 396.7 L252.5 396.3 L256.3 395.7 L260.1 397.5 L264.0 397.7 L267.8 392.5 L271.7 392.1 L275.5 396.1 L279.3 395.1 L283.2 393.1 L287.0 392.7 L290.9 391.7 L294.7 393.1 L298.5 398.5 L302.4 397.1 L306.2 395.7 L310.0 387.1 L313.9 388.1 L317.7 397.1 L321.6 395.7 L325.4 395.5 L329.2 392.5 L333.1 398.1 L336.9 404.1 L340.7 397.1 L344.6 393.1 L348.4 392.7 L352.3 401.1 L356.1 403.7 L359.9 395.7 L363.8 389.1 L367.6 384.1 L371.4 383.6 L375.3 381.6 L379.1 377.0 L383.0 374.0 L386.8 383.1 L390.6 387.1 L394.5 388.1 L398.3 388.1 L402.1 383.1 L406.0 384.1 L409.8 381.6 L413.7 377.6 L417.5 377.0 L421.3 370.4 L425.2 370.0 L429.0 375.0 L432.9 372.4 L436.7 369.6 L440.5 369.4 L444.4 370.0 L448.2 369.8 L452.1 369.6 L455.9 377.0 L459.7 384.6 L463.6 384.1 L467.4 382.4 L471.2 379.0 L475.1 384.1 L478.9 387.5 L482.8 384.1 L486.6 381.4 L490.4 383.1 L494.3 385.1 L498.1 384.4 L501.9 388.1 L505.8 393.7 L509.6 393.1 L513.5 396.1 L517.3 399.7 L521.1 388.7 L525.0 387.1 L528.8 389.1 L532.6 388.5 L536.5 386.7 L540.3 380.0 L544.2 389.1 L548.0 388.1 L551.8 391.7 L555.7 390.1 L559.5 384.4 L563.4 381.6 L567.2 382.4 L571.0 400.5 L574.9 396.5 L578.7 395.5 L582.5 399.1 L586.4 402.5 L590.2 401.1 L594.0 403.1 L597.9 399.7 L601.7 396.1 L605.6 395.5 L609.4 393.7 L613.2 396.5 L617.1 396.5 L620.9 395.7 L624.8 394.5 L628.6 392.1 L632.4 388.5 L636.3 394.5 L640.1 393.7 L644.0 396.5 L647.8 394.5 L651.6 390.5 L655.5 388.5 L659.3 385.1 L663.1 386.5 L667.0 387.1 L670.8 382.4 L674.6 382.4 L678.5 380.6 L682.3 379.6 L686.2 379.6 L690.0 378.8 L693.8 376.6 L697.7 370.0 L701.5 371.0 L705.4 376.4 L709.2 381.6 L713.0 381.6 L716.9 387.5 L720.7 387.1 L724.5 396.1 L728.4 403.1 L732.2 401.7 L736.1 400.5 L739.9 396.5 L743.7 396.7 L747.6 399.7 L751.4 403.7 L755.2 407.5 L759.1 404.5 L762.9 401.1 L766.8 402.5 L770.6 391.7 L774.4 385.1 L778.3 386.7 L782.1 386.3 L786.0 385.1 L786.0 377.5 Z" fill="#bdbdbd" clip-path="url(#ob)"/><path d="M-1 390 L3.0 391.1 L6.8 395.7 L10.7 392.5 L14.5 391.1 L18.4 394.5 L22.2 391.1 L26.0 390.1 L29.9 386.5 L33.7 386.1 L37.5 380.0 L41.4 386.1 L45.2 387.7 L49.1 388.1 L52.9 386.5 L56.7 383.1 L60.6 379.6 L64.4 381.1 L68.2 383.1 L72.1 383.1 L75.9 386.5 L79.8 388.1 L83.6 381.6 L87.4 377.0 L91.3 386.1 L95.1 384.4 L99.0 388.1 L102.8 391.7 L106.6 393.1 L110.5 402.5 L114.3 397.7 L118.1 397.1 L122.0 395.7 L125.8 392.1 L129.7 399.1 L133.5 401.1 L137.3 398.1 L141.2 398.5 L145.0 403.7 L148.8 399.1 L152.7 393.7 L156.5 395.1 L160.4 390.5 L164.2 390.5 L168.0 393.1 L171.9 399.7 L175.7 398.5 L179.6 402.5 L183.4 399.7 L187.2 399.5 L191.1 403.1 L194.9 406.5 L198.7 400.1 L202.6 396.1 L206.4 391.1 L210.2 391.1 L214.1 390.5 L217.9 387.7 L221.8 389.7 L225.6 390.5 L229.4 400.5 L233.3 399.5 L237.1 403.5 L241.0 399.1 L244.8 396.5 L248.6 396.7 L252.5 396.3 L256.3 395.7 L260.1 397.5 L264.0 397.7 L267.8 392.5 L271.7 392.1 L275.5 396.1 L279.3 395.1 L283.2 393.1 L287.0 392.7 L290.9 391.7 L294.7 393.1 L298.5 398.5 L302.4 397.1 L306.2 395.7 L310.0 387.1 L313.9 388.1 L317.7 397.1 L321.6 395.7 L325.4 395.5 L329.2 392.5 L333.1 398.1 L336.9 404.1 L340.7 397.1 L344.6 393.1 L348.4 392.7 L352.3 401.1 L356.1 403.7 L359.9 395.7 L363.8 389.1 L367.6 384.1 L371.4 383.6 L375.3 381.6 L379.1 377.0 L383.0 374.0 L386.8 383.1 L390.6 387.1 L394.5 388.1 L398.3 388.1 L402.1 383.1 L406.0 384.1 L409.8 381.6 L413.7 377.6 L417.5 377.0 L421.3 370.4 L425.2 370.0 L429.0 375.0 L432.9 372.4 L436.7 369.6 L440.5 369.4 L444.4 370.0 L448.2 369.8 L452.1 369.6 L455.9 377.0 L459.7 384.6 L463.6 384.1 L467.4 382.4 L471.2 379.0 L475.1 384.1 L478.9 387.5 L482.8 384.1 L486.6 381.4 L490.4 383.1 L494.3 385.1 L498.1 384.4 L501.9 388.1 L505.8 393.7 L509.6 393.1 L513.5 396.1 L517.3 399.7 L521.1 388.7 L525.0 387.1 L528.8 389.1 L532.6 388.5 L536.5 386.7 L540.3 380.0 L544.2 389.1 L548.0 388.1 L551.8 391.7 L555.7 390.1 L559.5 384.4 L563.4 381.6 L567.2 382.4 L571.0 400.5 L574.9 396.5 L578.7 395.5 L582.5 399.1 L586.4 402.5 L590.2 401.1 L594.0 403.1 L597.9 399.7 L601.7 396.1 L605.6 395.5 L609.4 393.7 L613.2 396.5 L617.1 396.5 L620.9 395.7 L624.8 394.5 L628.6 392.1 L632.4 388.5 L636.3 394.5 L640.1 393.7 L644.0 396.5 L647.8 394.5 L651.6 390.5 L655.5 388.5 L659.3 385.1 L663.1 386.5 L667.0 387.1 L670.8 382.4 L674.6 382.4 L678.5 380.6 L682.3 379.6 L686.2 379.6 L690.0 378.8 L693.8 376.6 L697.7 370.0 L701.5 371.0 L705.4 376.4 L709.2 381.6 L713.0 381.6 L716.9 387.5 L720.7 387.1 L724.5 396.1 L728.4 403.1 L732.2 401.7 L736.1 400.5 L739.9 396.5 L743.7 396.7 L747.6 399.7 L751.4 403.7 L755.2 407.5 L759.1 404.5 L762.9 401.1 L766.8 402.5 L770.6 391.7 L774.4 385.1 L778.3 386.7 L782.1 386.3 L786.0 385.1" fill="none" stroke="#333" stroke-width="1" stroke-linejoin="round"/>
 <path d="M417.7 369.6 H748" stroke="#555" stroke-width="1.3"/>
 <!-- axis labels -->
 <g font-size="6.6" fill="#333">
  <text x="884.3" y="106.8" textLength="10.2" lengthAdjust="spacingAndGlyphs">115</text>
  <text x="884.3" y="199.8" textLength="17" lengthAdjust="spacingAndGlyphs">112.5</text>
  <text x="884.3" y="291.8" textLength="10.2" lengthAdjust="spacingAndGlyphs">110</text>
  <text x="884.3" y="379.8" textLength="7" lengthAdjust="spacingAndGlyphs">70</text>
  <text x="884.3" y="414.8" textLength="7" lengthAdjust="spacingAndGlyphs">30</text>
 </g>
 <path d="M880 104.5 h2 M880 197.5 h2 M880 289.5 h2 M880 377.5 h2 M880 412.5 h2" stroke="#999" stroke-width="1" shape-rendering="crispEdges"/>
 <path d="M87.5 447 v3 M187.5 447 v3 M290.5 447 v3 M390.5 447 v3 M490.5 447 v3 M586.5 447 v3 M688.5 447 v3 M789.5 447 v3" stroke="#aaa" stroke-width="1" shape-rendering="crispEdges"/>
 <g font-size="7" fill="#555">
  <text x="1.4" y="456.6" text-anchor="end">Jun</text>
  <text x="82.7" y="456.6" textLength="9" lengthAdjust="spacingAndGlyphs">Jul</text>
  <text x="179.8" y="456.6" textLength="14.8" lengthAdjust="spacingAndGlyphs">Aug</text>
  <text x="282.7" y="456.6" textLength="16.6" lengthAdjust="spacingAndGlyphs">Sept</text>
  <text x="384.1" y="456.6" textLength="13" lengthAdjust="spacingAndGlyphs">Oct</text>
  <text x="482.7" y="456.6" textLength="16" lengthAdjust="spacingAndGlyphs">Nov</text>
  <text x="579.2" y="456.6" textLength="14.5" lengthAdjust="spacingAndGlyphs">Dec</text>
  <text x="679" y="456.6" textLength="18.3" lengthAdjust="spacingAndGlyphs">2022</text>
  <text x="783" y="456.6" textLength="13.9" lengthAdjust="spacingAndGlyphs">Feb</text>
 </g>
 <!-- price tag -->
 <path d="M880.7 90.7 L886.2 85.5 H915.3 Q916.3 85.5 916.3 86.5 V95 Q916.3 96 915.3 96 H886.2 Z" fill="#5c5aa6"/>
 <text x="890.1" y="93.2" font-size="6.8" font-weight="bold" fill="#fff" textLength="24.3" lengthAdjust="spacingAndGlyphs">115.379</text>
 <path d="M880.7 385.5 L886.2 380.3 H907 Q908 380.3 908 381.3 V389.7 Q908 390.7 907 390.7 H886.2 Z" fill="#111"/>
 <text x="889.5" y="388" font-size="6.8" font-weight="bold" fill="#fff" textLength="17" lengthAdjust="spacingAndGlyphs">60.52</text>
 <!-- info text -->
 <g font-size="6.6" fill="#aaa">
  <text x="3.8" y="325" textLength="24" lengthAdjust="spacingAndGlyphs">TODAY:</text><text x="3.8" y="334.4" textLength="23.5" lengthAdjust="spacingAndGlyphs">CHART:</text>
  <text x="39.8" y="325" textLength="6.5" lengthAdjust="spacingAndGlyphs">H:</text><text x="39.8" y="334.4" textLength="6.5" lengthAdjust="spacingAndGlyphs">H:</text>
  <text x="80.3" y="325" textLength="4.2" lengthAdjust="spacingAndGlyphs">L:</text><text x="80.3" y="334.4" textLength="4.2" lengthAdjust="spacingAndGlyphs">L:</text>
 </g>
 <g font-size="6.6" fill="#333">
  <text x="49" y="325" textLength="25.1" lengthAdjust="spacingAndGlyphs">115.592</text><text x="49" y="334.4" textLength="25.1" lengthAdjust="spacingAndGlyphs">116.352</text>
  <text x="88.1" y="325" textLength="25.2" lengthAdjust="spacingAndGlyphs">115.190</text><text x="88.1" y="334.4" textLength="25.2" lengthAdjust="spacingAndGlyphs">108.722</text>
 </g>
 <g font-size="6.6" fill="#4aa3a0">
  <text x="122.6" y="325" textLength="17.5" lengthAdjust="spacingAndGlyphs">0.158</text><text x="122.6" y="334.4" textLength="17.5" lengthAdjust="spacingAndGlyphs">5.791</text>
  <text x="149.1" y="325" textLength="15.8" lengthAdjust="spacingAndGlyphs">0.1%</text><text x="149.1" y="334.4" textLength="15.8" lengthAdjust="spacingAndGlyphs">5.3%</text>
 </g>
 <text x="3.8" y="360.7" font-size="6.6" font-weight="bold" fill="#222" textLength="10.1" lengthAdjust="spacingAndGlyphs">RSI</text>
 <text x="16.9" y="360.7" font-size="6.6" fill="#666" textLength="7.1" lengthAdjust="spacingAndGlyphs">14</text>
 <!-- gear & x -->
 <g transform="translate(31.9 358.6)">
  <circle r="2.6" fill="none" stroke="#999" stroke-width="1.6"/>
  <g stroke="#999" stroke-width="1.7"><path d="M0 -3.9 V-2.4 M0 3.9 V2.4 M-3.9 0 H-2.4 M3.9 0 H2.4 M-2.76 -2.76 L-1.7 -1.7 M2.76 2.76 L1.7 1.7 M-2.76 2.76 L-1.7 1.7 M2.76 -2.76 L1.7 -1.7"/></g>
 </g>
 <path d="M41 356 L46.2 361.2 M46.2 356 L41 361.2" stroke="#999" stroke-width="1.5"/>
</svg>
</body></html>
